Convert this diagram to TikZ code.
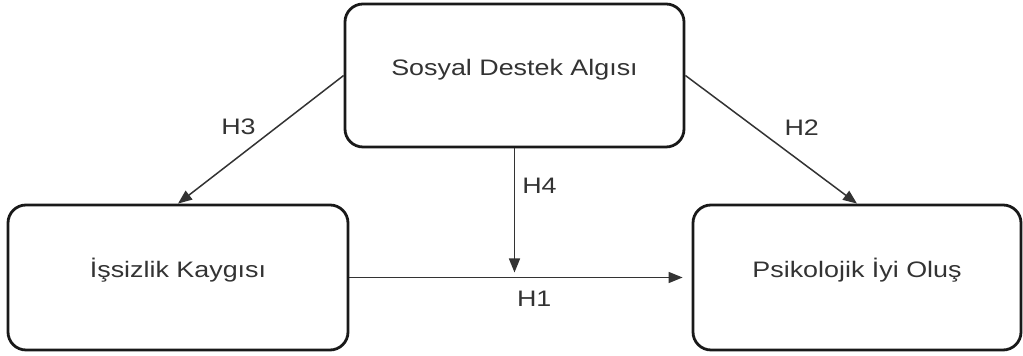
\documentclass[tikz,border=0pt]{standalone}
\usepackage{fontspec}
\setmainfont{Liberation Sans}[FakeStretch=1.2]
\usetikzlibrary{arrows.meta}

\tikzset{
  construct/.style={draw=black!90, line width=1.4pt, rounded corners=9pt, text=black!80,
    font=\fontsize{11.2}{13}\selectfont, text height=4pt, text depth=4pt},
  link/.style={draw=black!80, line width=0.75pt, -{Triangle[length=7pt,width=5.5pt]}},
  hyp/.style={text=black!80, font=\fontsize{11.2}{13}\selectfont, inner sep=0pt},
}

\begin{document}
\begin{tikzpicture}[x=0.5pt, y=-0.5pt]
\useasboundingbox (0,0) rectangle (1023,356);
\node[construct, minimum width=169.5pt, minimum height=71.5pt] (sda) at (514.5,75.5) {Sosyal Destek Algısı};
\node[construct, minimum width=170pt, minimum height=72.5pt] (ik) at (178,277.5) {İşsizlik Kaygısı};
\node[construct, minimum width=164pt, minimum height=72.5pt] (pio) at (857,277.5) {Psikolojik İyi Oluş};
\draw[link] (sda.west) -- node[hyp, pos=0.4, left=10.5pt] {H3} (ik.north);
\draw[link] (sda.east) -- node[hyp, pos=0.41, right=14pt] {H2} (pio.north);
\draw[link, shorten >=2.5pt] (sda.south) -- node[hyp, pos=0.29, right=3.5pt] {H4} (sda.south |- ik.east);
\draw[link, shorten >=4.5pt] (ik.east) -- node[hyp, pos=0.54, below=6.5pt] {H1} (pio.west);
\end{tikzpicture}
\end{document}
